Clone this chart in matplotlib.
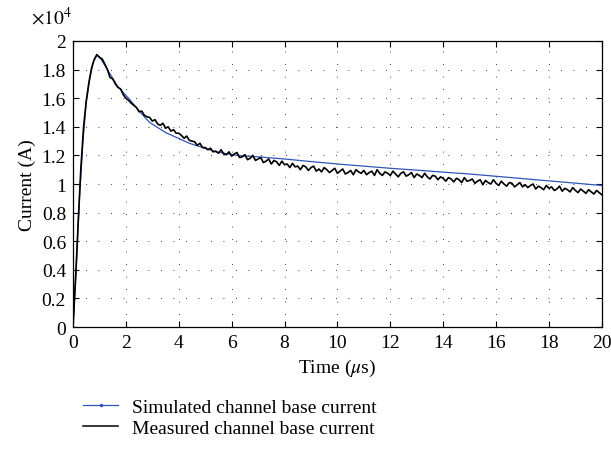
import matplotlib
matplotlib.use('Agg')
import matplotlib.pyplot as plt
from matplotlib.lines import Line2D

# simulated channel base current (x1e4 A), smooth model curve
sim_t = [0, 0.13, 0.25, 0.38, 0.5, 0.63, 0.76, 0.9, 1.0, 1.2, 1.4, 1.7, 2.15, 2.5, 2.9,
         3.5, 4.4, 5.4, 6.2, 7, 8, 9, 10, 11, 12, 13, 14, 15, 16, 17, 18, 19, 20]
sim_i = [0, 0.45, 0.92, 1.31, 1.57, 1.73, 1.85, 1.90, 1.89, 1.83, 1.77, 1.68, 1.59, 1.51, 1.43,
         1.36, 1.285, 1.225, 1.20, 1.19, 1.175, 1.157, 1.14, 1.125, 1.11, 1.097, 1.083,
         1.07, 1.054, 1.038, 1.022, 1.006, 0.99]

# measured channel base current (x1e4 A), sampled every 0.1 us
meas_i = [
    0, 0.35, 0.75, 1.12, 1.40, 1.58, 1.71, 1.81, 1.87, 1.905,
    1.885, 1.875, 1.84, 1.80, 1.745, 1.735, 1.70, 1.675, 1.665, 1.625,
    1.60, 1.585, 1.565, 1.55, 1.535, 1.505, 1.51, 1.48, 1.47, 1.465,
    1.44, 1.45, 1.42, 1.41, 1.425, 1.39, 1.40, 1.37, 1.38, 1.355,
    1.355, 1.34, 1.32, 1.335, 1.305, 1.30, 1.295, 1.27, 1.285, 1.255,
    1.255, 1.24, 1.25, 1.225, 1.23, 1.215, 1.24, 1.21, 1.205, 1.225,
    1.195, 1.21, 1.22, 1.185, 1.19, 1.205, 1.17, 1.18, 1.20, 1.165,
    1.175, 1.185, 1.15, 1.16, 1.175, 1.14, 1.165, 1.155, 1.13, 1.16,
    1.135, 1.14, 1.115, 1.145, 1.12, 1.125, 1.10, 1.13, 1.12, 1.095,
    1.115, 1.125, 1.09, 1.105, 1.085, 1.115, 1.10, 1.08, 1.095, 1.11,
    1.075, 1.09, 1.105, 1.07, 1.08, 1.095, 1.065, 1.10, 1.085, 1.075,
    1.095, 1.065, 1.08, 1.09, 1.06, 1.10, 1.075, 1.06, 1.085, 1.075,
    1.06, 1.09, 1.07, 1.05, 1.075, 1.085, 1.055, 1.065, 1.08, 1.045,
    1.07, 1.06, 1.045, 1.075, 1.05, 1.035, 1.06, 1.055, 1.03, 1.05,
    1.04, 1.02, 1.045, 1.035, 1.015, 1.04, 1.03, 1.01, 1.045, 1.02,
    1.025, 1.035, 1.005, 1.02, 1.03, 0.995, 1.025, 1.01, 1.00, 1.03,
    1.005, 0.99, 1.02, 1.00, 0.985, 1.01, 1.005, 0.98, 0.995, 1.01,
    0.98, 0.995, 0.975, 0.99, 1.00, 0.965, 0.985, 0.975, 0.96, 0.99,
    0.97, 0.98, 0.955, 0.965, 0.985, 0.95, 0.97, 0.96, 0.945, 0.975,
    0.955, 0.94, 0.965, 0.95, 0.935, 0.96, 0.945, 0.93, 0.955, 0.94,
    0.925,
]
meas_t = [k / 10 for k in range(len(meas_i))]

x_ticks = list(range(0, 21, 2))
y_ticks = [0, 0.2, 0.4, 0.6, 0.8, 1, 1.2, 1.4, 1.6, 1.8, 2]
y_labels = ['0', '0.2', '0.4', '0.6', '0.8', '1', '1.2', '1.4', '1.6', '1.8', '2']
labels = ['Simulated channel base current', 'Measured channel base current']

plt.rcParams['font.family'] = ['Liberation Serif', 'DejaVu Serif']
plt.rcParams['mathtext.fontset'] = 'stix'

blue = '#2f55b8'
fs = 14

fig = plt.figure(figsize=(6.11, 4.64), dpi=100)
ax = fig.add_axes([0.1195, 0.293, 0.8655, 0.6165])

ax.plot(sim_t, sim_i, color=blue, lw=0.9)
ax.plot(meas_t, meas_i, color='black', lw=1.2)

ax.set_xlim(0, 20)
ax.set_ylim(0, 2)
ax.set_xticks(x_ticks)
ax.set_yticks(y_ticks)
ax.set_yticklabels(y_labels)
ax.tick_params(direction='in', top=True, right=True, length=4, width=0.8,
               labelsize=fs, pad=5)
ax.grid(True, color='black', lw=0.6, linestyle=(0, (1, 14)))
for s in ax.spines.values():
    s.set_linewidth(0.9)

ax.set_xlabel(r'Time ($\mu$s)', fontsize=fs, labelpad=4)
ax.set_ylabel('Current (A)', fontsize=fs, labelpad=4)
fig.text(0.05, 0.962, r'$\times10^4$', fontsize=fs, va='center')

handles = [Line2D([], [], color=blue, lw=0.9, marker='.', markersize=3),
           Line2D([], [], color='black', lw=1.1)]
fig.legend(handles, labels, loc='upper left', bbox_to_anchor=(0.108, 0.178),
           frameon=False, numpoints=1, handlelength=1.8, handletextpad=0.7,
           labelspacing=0.2, fontsize=fs)

fig.savefig('out.png', dpi=100)
